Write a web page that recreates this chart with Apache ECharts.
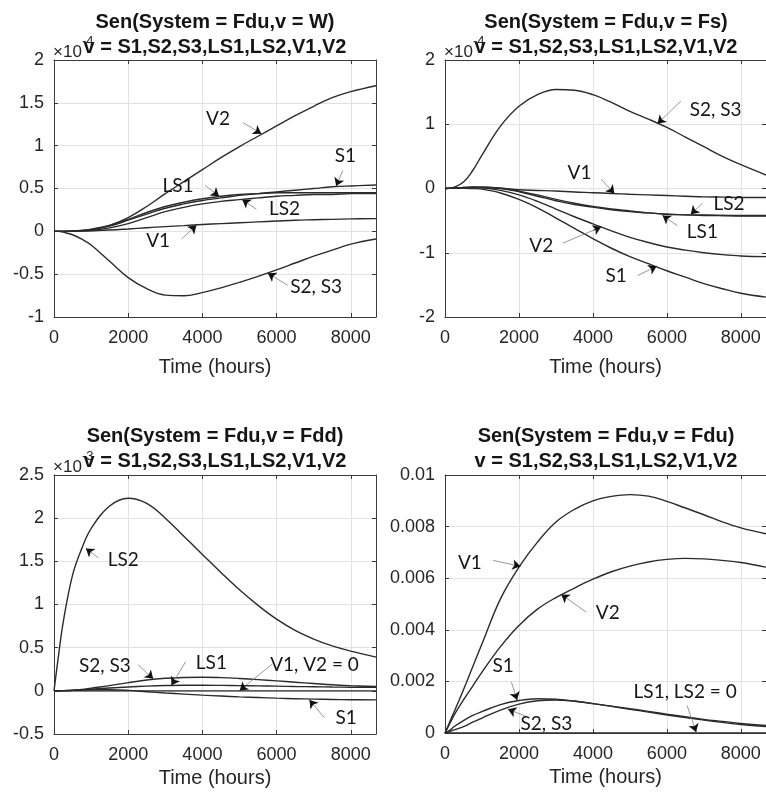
<!DOCTYPE html>
<html>
<head>
<meta charset="utf-8">
<script src="https://cdn.jsdelivr.net/npm/echarts@6/dist/echarts.min.js"></script>
<style>
  html, body { margin: 0; padding: 0; background: #ffffff; }
  #chart { width: 766px; height: 798px; }
</style>
</head>
<body>
<div id="chart"></div>
<script>
// Sample times (hours) shared by every curve
const hours = [0, 125, 250, 500, 750, 1000, 1500, 2000, 2500, 3000, 3500, 4000, 4500, 5000, 5500, 6000, 6500, 7000, 7500, 8000, 8680];
const hourMax = 8680;
const xTicks = [0, 2000, 4000, 6000, 8000];

// Sen(System = Fdu, v = W), values in units of 1e-4
const wV2   = [0, 0, 0, 0.003, 0.01, 0.02, 0.07, 0.16, 0.29, 0.44, 0.58, 0.72, 0.86, 0.99, 1.11, 1.23, 1.35, 1.46, 1.56, 1.63, 1.70];
const wS1   = [0, 0, 0, 0.002, 0.008, 0.02, 0.06, 0.13, 0.20, 0.27, 0.32, 0.36, 0.39, 0.42, 0.44, 0.46, 0.48, 0.50, 0.52, 0.53, 0.54];
const wLS1  = [0, 0, 0, 0.003, 0.01, 0.025, 0.07, 0.14, 0.22, 0.29, 0.34, 0.38, 0.41, 0.43, 0.44, 0.45, 0.45, 0.45, 0.45, 0.45, 0.45];
const wLS2  = [0, 0, 0, 0.001, 0.005, 0.01, 0.04, 0.09, 0.16, 0.23, 0.28, 0.32, 0.35, 0.37, 0.39, 0.41, 0.42, 0.43, 0.43, 0.44, 0.44];
const wV1   = [0, 0, 0, 0.001, 0.003, 0.006, 0.015, 0.028, 0.042, 0.055, 0.067, 0.08, 0.09, 0.10, 0.11, 0.12, 0.13, 0.135, 0.14, 0.145, 0.148];
const wS2S3 = [0, 0, -0.01, -0.04, -0.09, -0.16, -0.35, -0.54, -0.67, -0.745, -0.752, -0.715, -0.66, -0.595, -0.525, -0.45, -0.37, -0.29, -0.22, -0.15, -0.09];

// Sen(System = Fdu, v = Fs), values in units of 1e-4
const fsS2S3 = [0, 0.005, 0.02, 0.10, 0.28, 0.52, 0.97, 1.28, 1.46, 1.54, 1.53, 1.46, 1.34, 1.20, 1.08, 0.95, 0.80, 0.65, 0.50, 0.37, 0.21];
const fsV1   = [0, 0.002, 0.005, 0.01, 0.015, 0.015, 0.005, -0.02, -0.03, -0.04, -0.055, -0.065, -0.077, -0.09, -0.10, -0.11, -0.12, -0.13, -0.135, -0.14, -0.14];
const fsLS1  = [0, 0.002, 0.005, 0.015, 0.02, 0.02, 0.0, -0.05, -0.12, -0.19, -0.25, -0.29, -0.33, -0.36, -0.38, -0.40, -0.41, -0.42, -0.42, -0.43, -0.43];
const fsLS2  = [0, 0.002, 0.005, 0.015, 0.02, 0.02, 0.005, -0.04, -0.10, -0.17, -0.23, -0.28, -0.32, -0.35, -0.38, -0.40, -0.41, -0.41, -0.42, -0.42, -0.42];
const fsV2   = [0, 0.002, 0.005, 0.01, 0.015, 0.01, -0.03, -0.10, -0.20, -0.32, -0.44, -0.55, -0.66, -0.76, -0.84, -0.91, -0.96, -1.00, -1.03, -1.05, -1.06];
const fsS1   = [0, 0.002, 0.005, 0.005, 0.0, -0.01, -0.07, -0.17, -0.30, -0.46, -0.62, -0.78, -0.93, -1.06, -1.17, -1.28, -1.38, -1.48, -1.56, -1.63, -1.69];

// Sen(System = Fdu, v = Fdd), values in units of 1e-3
const fddLS2  = [0, 0.42, 0.80, 1.34, 1.65, 1.88, 2.14, 2.23, 2.17, 2.00, 1.79, 1.58, 1.37, 1.17, 0.99, 0.83, 0.70, 0.60, 0.52, 0.46, 0.39];
const fddS2S3 = [0, 0.001, 0.002, 0.005, 0.015, 0.03, 0.06, 0.095, 0.125, 0.145, 0.155, 0.158, 0.153, 0.143, 0.13, 0.115, 0.10, 0.085, 0.07, 0.06, 0.05];
const fddLS1  = [0, 0.001, 0.002, 0.006, 0.012, 0.02, 0.033, 0.045, 0.055, 0.062, 0.065, 0.065, 0.063, 0.06, 0.057, 0.054, 0.05, 0.047, 0.044, 0.042, 0.04];
const fddS1   = [0, 0.001, 0.002, 0.005, 0.009, 0.012, 0.012, 0.005, -0.01, -0.025, -0.038, -0.05, -0.06, -0.07, -0.078, -0.085, -0.091, -0.096, -0.10, -0.103, -0.105];
const fddV1V2 = [0, 0, 0, 0, 0, 0, 0, 0, 0, 0, 0, 0, 0, 0, 0, 0, 0, 0, 0, 0, 0];

// Sen(System = Fdu, v = Fdu)
const fduV1    = [0, 0.00042, 0.00083, 0.00168, 0.00257, 0.00346, 0.0052, 0.00643, 0.0074, 0.00818, 0.00867, 0.009, 0.00917, 0.00924, 0.00918, 0.00898, 0.00872, 0.00846, 0.00818, 0.00795, 0.00772];
const fduV2    = [0, 0.00035, 0.0007, 0.00128, 0.00182, 0.00236, 0.00335, 0.00417, 0.0048, 0.00525, 0.00562, 0.00596, 0.00625, 0.00647, 0.00663, 0.00673, 0.00677, 0.00675, 0.00669, 0.00661, 0.00643];
const fduS1    = [0, 0.0001, 0.00025, 0.00048, 0.00068, 0.00083, 0.0011, 0.00126, 0.00133, 0.00131, 0.00124, 0.00114, 0.00104, 0.00094, 0.00084, 0.00073, 0.00063, 0.00053, 0.00045, 0.00037, 0.00029];
const fduS2S3  = [0, 0.00005, 0.00012, 0.00025, 0.00042, 0.00058, 0.00089, 0.00112, 0.00125, 0.00128, 0.00123, 0.00114, 0.00103, 0.00092, 0.00081, 0.0007, 0.0006, 0.0005, 0.00041, 0.00033, 0.00025];
const fduLS1LS2 = [0, 0, 0, 0, 0, 0, 0, 0, 0, 0, 0, 0, 0, 0, 0, 0, 0, 0, 0, 0, 0];

// Curve labels: text position, arrow start, arrow tip (hours, value)
const notesW = [
  { text: 'V2',     at: [4422, 1.31],  from: [5094, 1.27],  to: [5588, 1.14] },
  { text: 'S1',     at: [7857, 0.88],  from: [7785, 0.71],  to: [7606, 0.53] },
  { text: 'LS1',    at: [3345, 0.53],  from: [4063, 0.54],  to: [4449, 0.41] },
  { text: 'LS2',    at: [6216, 0.26],  from: [5453, 0.26],  to: [5076, 0.37] },
  { text: 'V1',     at: [2807, -0.11], from: [3435, -0.09], to: [3839, 0.07] },
  { text: 'S2, S3', at: [7067, -0.65], from: [6305, -0.63], to: [5767, -0.49] }
];
const notesFs = [
  { text: 'S2, S3', at: [7319, 1.23],   from: [6377, 1.36],   to: [5748, 1.01] },
  { text: 'V1',     at: [3637, 0.25],   from: [4221, 0.145],  to: [4580, -0.078] },
  { text: 'LS2',    at: [7679, -0.24],  from: [6960, -0.23],  to: [6646, -0.40] },
  { text: 'LS1',    at: [6960, -0.68],  from: [6287, -0.58],  to: [5883, -0.42] },
  { text: 'V2',     at: [2604, -0.89],  from: [3188, -0.85],  to: [4221, -0.60] },
  { text: 'S1',     at: [4625, -1.355], from: [5209, -1.355], to: [5721, -1.21] }
];
const notesFdd = [
  { text: 'LS2',         at: [1866, 1.52],   from: [1193, 1.54],   to: [861, 1.65] },
  { text: 'S2, S3',      at: [1372, 0.29],   from: [2269, 0.30],   to: [2673, 0.14] },
  { text: 'LS1',         at: [4242, 0.32],   from: [3552, 0.34],   to: [3166, 0.065] },
  { text: 'V1, V2 = 0',  at: [7023, 0.30],   from: [5884, 0.31],   to: [5005, 0.005] },
  { text: 'S1',          at: [7875, -0.315], from: [7292, -0.315], to: [6888, -0.105] }
];
const notesFdu = [
  { text: 'V1',           at: [674, 0.00659],  from: [1302, 0.00669], to: [2039, 0.00646] },
  { text: 'V2',           at: [4401, 0.00467], from: [3817, 0.00469], to: [3144, 0.00537] },
  { text: 'S1',           at: [1572, 0.00262], from: [1796, 0.00197], to: [1949, 0.00128] },
  { text: 'S2, S3',       at: [2739, 0.00037], from: [2218, 0.00063], to: [1706, 0.00092] },
  { text: 'LS1, LS2 = 0', at: [6494, 0.0016],  from: [6548, 0.00106], to: [6790, 0.00004] }
];

const FONT = '"Liberation Sans", Arial, Helvetica, sans-serif';
const NOTE_FONT = 'Lato, "Open Sans", sans-serif';
const AXIS_C = '#3a3a3a';
const TEXT_C = '#262626';
const GRID_C = '#e2e2e2';
const CURVE_C = '#2b2b2b';

const panels = [
  { title: 'Sen(System = Fdu,v = W)\nv = S1,S2,S3,LS1,LS2,V1,V2',
    box: { left: 54, top: 60, width: 322, height: 257 }, titleTop: 10, nameGap: 40,
    yMin: -1, yMax: 2, yStep: 0.5, exp: '-4',
    curves: [wV2, wS1, wLS1, wLS2, wV1, wS2S3], notes: notesW },
  { title: 'Sen(System = Fdu,v = Fs)\nv = S1,S2,S3,LS1,LS2,V1,V2',
    box: { left: 445, top: 60, width: 322, height: 257 }, titleTop: 10, nameGap: 40,
    yMin: -2, yMax: 2, yStep: 1, exp: '-4',
    curves: [fsS2S3, fsV1, fsLS1, fsLS2, fsV2, fsS1], notes: notesFs },
  { title: 'Sen(System = Fdu,v = Fdd)\nv = S1,S2,S3,LS1,LS2,V1,V2',
    box: { left: 54, top: 475, width: 322, height: 259 }, titleTop: 424, nameGap: 34,
    yMin: -0.5, yMax: 2.5, yStep: 0.5, exp: '-3',
    curves: [fddLS2, fddS2S3, fddLS1, fddS1, fddV1V2], notes: notesFdd },
  { title: 'Sen(System = Fdu,v = Fdu)\nv = S1,S2,S3,LS1,LS2,V1,V2',
    box: { left: 445, top: 475, width: 322, height: 258 }, titleTop: 424, nameGap: 34,
    yMin: 0, yMax: 0.01, yStep: 0.002, exp: null,
    curves: [fduV1, fduV2, fduS1, fduS2S3, fduLS1LS2], notes: notesFdu }
];

const grid = [], xAxis = [], yAxis = [], series = [], title = [], graphic = [];

const tickStyle = { inside: true, length: 4, lineStyle: { color: AXIS_C, width: 1 } };
const lineStyleAxis = { show: true, onZero: false, lineStyle: { color: AXIS_C, width: 1 } };

panels.forEach((p, i) => {
  grid.push({ left: p.box.left, top: p.box.top, width: p.box.width, height: p.box.height, containLabel: false });

  title.push({
    text: p.title,
    left: p.box.left + p.box.width / 2,
    top: p.titleTop,
    padding: 0,
    textAlign: 'center',
    z: 10,
    textStyle: { fontFamily: FONT, fontSize: 20, fontWeight: 'bold', lineHeight: 25, color: '#151515' }
  });

  xAxis.push({
    gridIndex: i, type: 'value', min: 0, max: hourMax, interval: 2000, position: 'bottom',
    axisLine: lineStyleAxis, axisTick: tickStyle,
    axisLabel: { margin: 12, fontSize: 18, fontFamily: FONT, color: TEXT_C,
      formatter: v => (xTicks.indexOf(v) >= 0 ? String(v) : ''), showMaxLabel: false },
    splitLine: { show: true, lineStyle: { color: GRID_C, width: 1 } },
    name: 'Time (hours)', nameLocation: 'middle', nameGap: p.nameGap,
    nameTextStyle: { fontFamily: FONT, fontSize: 20, color: TEXT_C }
  });
  xAxis.push({
    gridIndex: i, type: 'value', min: 0, max: hourMax, interval: 2000, position: 'top',
    axisLine: lineStyleAxis, axisTick: tickStyle, axisLabel: { show: false }, splitLine: { show: false }
  });
  yAxis.push({
    gridIndex: i, type: 'value', min: p.yMin, max: p.yMax, interval: p.yStep, position: 'left',
    axisLine: lineStyleAxis, axisTick: tickStyle,
    axisLabel: { margin: 10, fontSize: 18, fontFamily: FONT, color: TEXT_C },
    splitLine: { show: true, lineStyle: { color: GRID_C, width: 1 } }
  });
  yAxis.push({
    gridIndex: i, type: 'value', min: p.yMin, max: p.yMax, interval: p.yStep, position: 'right',
    axisLine: lineStyleAxis, axisTick: tickStyle, axisLabel: { show: false }, splitLine: { show: false }
  });

  // Arrow lines: a light shaft plus a dark head segment near the tip
  const arrowData = [];
  p.notes.forEach(n => {
    arrowData.push([
      { coord: n.from, symbol: 'none' },
      { coord: n.to, symbol: 'none', lineStyle: { color: '#8c8c8c', width: 0.9 } }
    ]);
    const near = [n.from[0] + (n.to[0] - n.from[0]) * 0.8, n.from[1] + (n.to[1] - n.from[1]) * 0.8];
    arrowData.push([
      { coord: near, symbol: 'none' },
      { coord: n.to, symbol: 'arrow', symbolSize: 8, lineStyle: { color: '#111111', width: 0.9 } }
    ]);
  });

  p.curves.forEach((vals, k) => {
    const s = {
      type: 'line', xAxisIndex: 2 * i, yAxisIndex: 2 * i,
      data: hours.map((h, j) => [h, vals[j]]),
      showSymbol: false, smooth: 0.4,
      lineStyle: { color: CURVE_C, width: 1.4 },
      silent: true, animation: false, z: 3
    };
    if (k === 0) {
      s.markLine = {
        silent: true, animation: false, symbol: ['none', 'arrow'], symbolSize: 8,
        label: { show: false }, emphasis: { disabled: true },
        lineStyle: { color: '#8c8c8c', width: 0.9, type: 'solid' },
        data: arrowData
      };
      s.markPoint = {
        silent: true, animation: false, symbol: 'rect', symbolSize: 1,
        itemStyle: { color: 'rgba(0,0,0,0)' },
        label: { show: true, position: 'inside', formatter: '{b}', fontFamily: NOTE_FONT, fontSize: 19, color: '#161616' },
        data: p.notes.map(n => ({ name: n.text, coord: n.at }))
      };
    }
    series.push(s);
  });

  if (p.exp) {
    graphic.push({
      type: 'text', x: p.box.left - 1, y: p.box.top + 1, z: 1,
      style: { text: '×10', fontFamily: FONT, fontSize: 17, fill: TEXT_C, align: 'left', verticalAlign: 'bottom' }
    });
    graphic.push({
      type: 'text', x: p.box.left + 28, y: p.box.top - 12, z: 1,
      style: { text: p.exp, fontFamily: FONT, fontSize: 13, fill: TEXT_C, align: 'left', verticalAlign: 'bottom' }
    });
  }
});

const chart = echarts.init(document.getElementById('chart'), null, { renderer: 'canvas' });
chart.setOption({
  backgroundColor: '#ffffff',
  animation: false,
  title, grid, xAxis, yAxis, series, graphic
});
</script>
</body>
</html>
